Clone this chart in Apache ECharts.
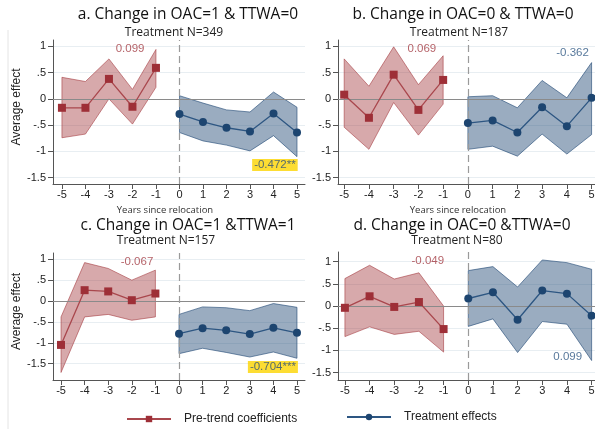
<!DOCTYPE html>
<html><head><meta charset="utf-8">
<script src="https://cdn.jsdelivr.net/npm/echarts@6/dist/echarts.min.js"></script>
<style>html,body{margin:0;padding:0;background:#fff}#c{width:595px;height:429px}</style>
</head><body><div id="c"></div>
<script>
// ---- data ----
const preYears = [-5, -4, -3, -2, -1];
const postYears = [0, 1, 2, 3, 4, 5];
const xTicks = [-5, -4, -3, -2, -1, 0, 1, 2, 3, 4, 5];
const yTicks = [-1.5, -1, -0.5, 0, 0.5, 1];

const aPre   = [-0.17, -0.17, 0.38, -0.15, 0.59];
const aPreHi = [0.41, 0.33, 0.76, 0.18, 0.94];
const aPreLo = [-0.74, -0.67, 0.00, -0.48, 0.22];
const aPost   = [-0.29, -0.44, -0.55, -0.62, -0.28, -0.64];
const aPostHi = [0.06, -0.08, -0.21, -0.25, 0.13, -0.16];
const aPostLo = [-0.64, -0.80, -0.88, -0.99, -0.70, -1.10];

const bPre   = [0.08, -0.36, 0.46, -0.21, 0.36];
const bPreHi = [0.76, 0.24, 0.99, 0.27, 0.82];
const bPreLo = [-0.54, -0.96, -0.07, -0.69, -0.10];
const bPost   = [-0.46, -0.41, -0.64, -0.16, -0.52, 0.02];
const bPostHi = [0.04, 0.06, -0.17, 0.35, 0.02, 0.69];
const bPostLo = [-0.96, -0.90, -1.09, -0.67, -1.05, -0.68];

const cPre   = [-1.05, 0.26, 0.23, 0.02, 0.18];
const cPreHi = [-0.38, 0.92, 0.78, 0.50, 0.74];
const cPreLo = [-1.71, -0.38, -0.32, -0.46, -0.38];
const cPost   = [-0.78, -0.65, -0.70, -0.79, -0.64, -0.76];
const cPostHi = [-0.32, -0.14, -0.16, -0.23, -0.06, -0.15];
const cPostLo = [-1.26, -1.13, -1.23, -1.34, -1.22, -1.37];

const dPre   = [-0.04, 0.22, -0.02, 0.09, -0.52];
const dPreHi = [0.62, 0.92, 0.61, 0.75, 0.00];
const dPreLo = [-0.69, -0.47, -0.64, -0.57, -1.04];
const dPost   = [0.17, 0.31, -0.31, 0.35, 0.28, -0.22];
const dPostHi = [0.80, 0.89, 0.43, 1.04, 0.98, 0.83];
const dPostLo = [-0.46, -0.29, -1.05, -0.35, -0.41, -1.23];

const titles = ['a. Change in OAC=1 & TTWA=0', 'b. Change in OAC=0 & TTWA=0',
                'c. Change in OAC=1 &TTWA=1', 'd. Change in OAC=0 &TTWA=0'];
const subtitles = ['Treatment N=349', 'Treatment N=187', 'Treatment N=157', 'Treatment N=80'];
const preNotes = ['0.099', '0.069', '-0.067', '-0.049'];
const postNotes = ['-0.472**', '-0.362', '-0.704***', '0.099'];
const seriesNames = ['Pre-trend coefficients', 'Treatment effects'];

// ---- layout ----
const panels = [
  {pre:aPre, preHi:aPreHi, preLo:aPreLo, post:aPost, postHi:aPostHi, postLo:aPostLo,
   grid:{left:53, top:40, width:252, height:144}, x:[-5.38, 5.34], y:[-1.62, 1.12],
   preAt:[-2.1, 0.95], postAt:[4.06, -1.26], postHl:true, tx:188, sx:174, ty:15, sy:33, xTitle:true, yTitle:true},
  {pre:bPre, preHi:bPreHi, preLo:bPreLo, post:bPost, postHi:bPostHi, postLo:bPostLo,
   grid:{left:338, top:40, width:262, height:144}, x:[-5.25, 5.34], y:[-1.62, 1.12],
   preAt:[-1.86, 0.95], postAt:[4.23, 0.88], postHl:false, tx:463, sx:459, ty:15, sy:33, xTitle:true, yTitle:false},
  {pre:cPre, preHi:cPreHi, preLo:cPreLo, post:cPost, postHi:cPostHi, postLo:cPostLo,
   grid:{left:53, top:253, width:252, height:127}, x:[-5.34, 5.34], y:[-1.89, 1.15],
   preAt:[-1.78, 0.94], postAt:[3.98, -1.58], postHl:true, tx:188, sx:166, ty:226, sy:241, xTitle:false, yTitle:true},
  {pre:dPre, preHi:dPreHi, preLo:dPreLo, post:dPost, postHi:dPostHi, postLo:dPostLo,
   grid:{left:338, top:252, width:262, height:128}, x:[-5.28, 5.34], y:[-1.67, 1.22],
   preAt:[-1.64, 1.02], postAt:[4.03, -1.15], postHl:false, tx:462, sx:457, ty:226, sy:241, xTitle:false, yTitle:false}
];

const RED = '#9e2f37', RED_LINE = '#a9474d', RED_FILL = 'rgba(160,50,55,0.42)', RED_EDGE = 'rgba(160,50,55,0.55)';
const BLUE = '#1d4570', BLUE_LINE = '#2d5682', BLUE_FILL = 'rgba(30,70,115,0.45)', BLUE_EDGE = 'rgba(30,70,115,0.6)';
const NUM_FONT = '"Liberation Sans", Arial, sans-serif';
const TITLE_FONT = '"Open Sans", "Noto Sans", sans-serif';

function fmtY(v){ if (v === 0) return '0'; return String(v).replace('0.', '.'); }

function band(xs, hi, lo, fill, edge, gi){
  return {
    type:'custom', xAxisIndex:gi, yAxisIndex:gi, silent:true, z:1,
    data:[[xs[0], hi[0]]],
    renderItem:function(params, api){
      const pts = [];
      for (let i = 0; i < xs.length; i++) pts.push(api.coord([xs[i], hi[i]]));
      for (let i = xs.length - 1; i >= 0; i--) pts.push(api.coord([xs[i], lo[i]]));
      return {type:'polygon', shape:{points:pts}, style:{fill:fill, stroke:edge, lineWidth:1}};
    }
  };
}

const grids = [], xAxes = [], yAxes = [], series = [], graphics = [];
panels.forEach((p, gi) => {
  grids.push(Object.assign({outerBoundsMode:'none'}, p.grid));
  xAxes.push({
    type:'value', gridIndex:gi, min:p.x[0], max:p.x[1],
    axisLine:{onZero:false, lineStyle:{color:'#555', width:1}},
    axisTick:{customValues:xTicks, length:5, lineStyle:{color:'#555'}},
    axisLabel:{customValues:xTicks, margin:5, fontSize:11, color:'#222', fontFamily:NUM_FONT},
    splitLine:{show:false}
  });
  yAxes.push({
    type:'value', gridIndex:gi, min:p.y[0], max:p.y[1],
    axisLine:{show:true, onZero:false, lineStyle:{color:'#555', width:1}},
    axisTick:{show:true, customValues:yTicks, length:5, lineStyle:{color:'#555'}},
    axisLabel:{customValues:yTicks, margin:7, fontSize:11, color:'#222', fontFamily:NUM_FONT, formatter:fmtY},
    splitLine:{show:true, lineStyle:{color:'#e8eef2', width:1}}
  });
  series.push(band(preYears, p.preHi, p.preLo, RED_FILL, RED_EDGE, gi));
  series.push(band(postYears, p.postHi, p.postLo, BLUE_FILL, BLUE_EDGE, gi));
  series.push({
    type:'line', name:seriesNames[0], xAxisIndex:gi, yAxisIndex:gi, z:3,
    data:preYears.map((x, i) => [x, p.pre[i]]),
    symbol:'rect', symbolSize:8, itemStyle:{color:RED},
    lineStyle:{color:RED_LINE, width:1.3}, animation:false,
    markLine:{silent:true, symbol:'none', label:{show:false}, z:2,
      data:[
        {yAxis:0, lineStyle:{color:'#8a8a8a', width:1.1, type:'solid'}},
        {xAxis:0, lineStyle:{color:'#9a9a9a', width:1.2, type:[7,4]}}
      ]}
  });
  series.push({
    type:'line', name:seriesNames[1], xAxisIndex:gi, yAxisIndex:gi, z:3,
    data:postYears.map((x, i) => [x, p.post[i]]),
    symbol:'circle', symbolSize:8, itemStyle:{color:BLUE},
    lineStyle:{color:BLUE_LINE, width:1.3}, animation:false
  });
  series.push({
    type:'scatter', xAxisIndex:gi, yAxisIndex:gi, silent:true, symbolSize:0, z:5,
    data:[{value:p.preAt, label:{formatter:preNotes[gi], color:'#a23b42'}},
          {value:p.postAt, label:p.postHl ?
              {formatter:postNotes[gi], color:'#2d4f7a', backgroundColor:'#fcd400', padding:[0,2,0,2], lineHeight:12} :
              {formatter:postNotes[gi], color:'#2d5682'}}],
    label:{show:true, position:'inside', fontSize:11.5, fontFamily:NUM_FONT}
  });
  graphics.push({type:'text', x:p.tx, y:p.ty, style:{text:titles[gi], font:'15.5px ' + TITLE_FONT, fill:'#111', textAlign:'center', textVerticalAlign:'middle'}});
  graphics.push({type:'text', x:p.sx, y:p.sy, style:{text:subtitles[gi], font:'12px ' + TITLE_FONT, fill:'#222', textAlign:'center', textVerticalAlign:'middle'}});
  if (p.xTitle) {
    graphics.push({type:'text', x:p.grid.left + (gi === 0 ? 112 : 120), y:210, style:{text:'Years since relocation', font:'9.5px ' + TITLE_FONT, fill:'#333', textAlign:'center', textVerticalAlign:'middle'}});
  }
  if (p.yTitle) {
    graphics.push({type:'text', x:17, y:p.grid.top + p.grid.height / 2 - 5, rotation:Math.PI / 2,
      style:{text:'Average effect', font:'12px ' + NUM_FONT, fill:'#222', textAlign:'center', textVerticalAlign:'middle'}});
  }
});
graphics.push({type:'line', shape:{x1:8, y1:30, x2:8, y2:429}, style:{stroke:'#e4e4e4', lineWidth:1}, silent:true});

const chart = echarts.init(document.getElementById('c'), null, {renderer:'canvas'});
chart.setOption({
  animation:false,
  backgroundColor:'#fff',
  grid:grids, xAxis:xAxes, yAxis:yAxes, series:series,
  graphic:graphics,
  legend:[
    {data:[seriesNames[0]], left:121, top:408, itemWidth:44, itemHeight:8, itemGap:10,
     textStyle:{fontSize:12, color:'#222', fontFamily:NUM_FONT, padding:[0,0,0,8]}},
    {data:[seriesNames[1]], left:341, top:406, itemWidth:44, itemHeight:8, itemGap:10,
     textStyle:{fontSize:12, color:'#222', fontFamily:NUM_FONT, padding:[0,0,0,8]}}
  ]
});
</script></body></html>
